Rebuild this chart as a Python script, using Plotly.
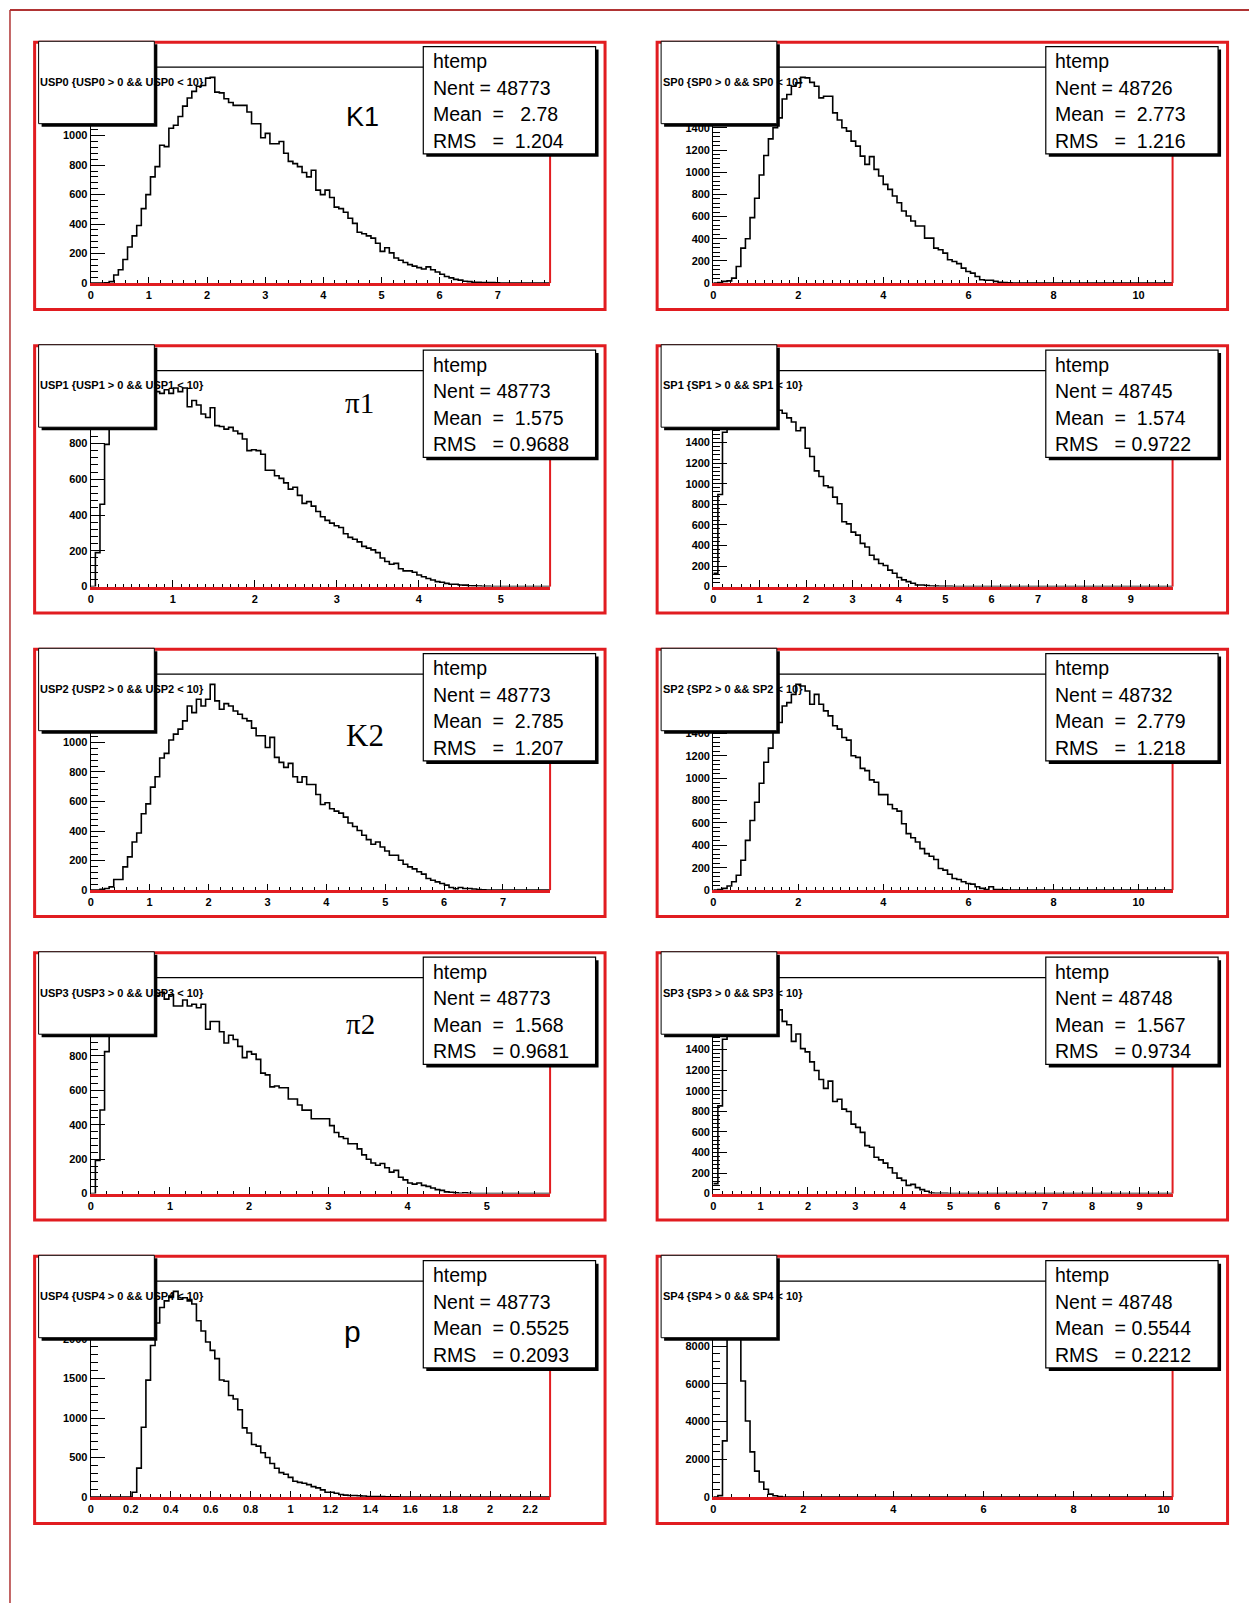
import plotly.graph_objects as go

W, H = 1249, 1609

# ---------------- data ----------------
names = ["USP0", "SP0", "USP1", "SP1", "USP2", "SP2", "USP3", "SP3", "USP4", "SP4"]
x_max = [7.9, 10.8, 5.6, 9.9, 7.8, 10.8, 5.8, 9.7, 2.3, 10.2]
n_bins = 100
nent = ["48773", "48726", "48773", "48745", "48773", "48732", "48773", "48748", "48773", "48748"]
mean = ["2.78", "2.773", "1.575", "1.574", "2.785", "2.779", "1.568", "1.567", "0.5525", "0.5544"]
rms = ["1.204", "1.216", "0.9688", "0.9722", "1.207", "1.218", "0.9681", "0.9734", "0.2093", "0.2212"]
panel_labels = ["K1", "", "π1", "", "K2", "", "π2", "", "p", ""]
x_dtick = [1, 2, 1, 1, 1, 2, 1, 1, 0.2, 2]
x_minor = [0.2, 0.2, 0.1, 0.2, 0.2, 0.2, 0.2, 0.2, 0.05, 0.4]
y_dtick = [200, 200, 200, 200, 200, 200, 200, 200, 500, 2000]
y_minor = [40, 40, 40, 40, 40, 40, 40, 40, 100, 400]

usp0 = [0, 0, 0, 2, 10, 55, 90, 160, 245, 320,
        390, 505, 600, 720, 790, 935, 925, 1050, 1070, 1130,
        1200, 1255, 1300, 1335, 1340, 1390, 1395, 1295, 1290, 1250,
        1225, 1205, 1205, 1205, 1160, 1080, 1080, 985, 1015, 945,
        945, 960, 880, 825, 810, 790, 750, 720, 765, 630,
        600, 630, 580, 515, 505, 480, 440, 405, 345, 335,
        320, 305, 270, 215, 240, 205, 170, 155, 140, 125,
        115, 105, 95, 110, 90, 75, 60, 45, 35, 25,
        20, 12, 10, 6, 5, 4, 3, 3, 2, 1]
sp0 = [0, 5, 15, 20, 45, 150, 315, 400, 590, 765,
       975, 1150, 1300, 1400, 1490, 1660, 1700, 1775, 1805, 1855,
       1850, 1810, 1775, 1670, 1685, 1685, 1535, 1470, 1400, 1370,
       1280, 1235, 1145, 1070, 1140, 1025, 965, 890, 845, 785,
       725, 650, 605, 560, 515, 515, 405, 405, 315, 300,
       270, 210, 195, 175, 135, 105, 90, 60, 30, 25,
       25, 15, 8, 5, 3]
usp1 = [0, 190, 460, 795, 960, 1060, 1100, 1120, 1140, 1150,
        1130, 1140, 1120, 1110, 1090, 1080, 1100, 1080, 1110, 1090,
        1110, 1005, 1040, 1015, 965, 945, 1000, 900, 895, 880,
        890, 870, 855, 825, 760, 765, 760, 740, 650, 650,
        620, 605, 580, 545, 555, 510, 465, 475, 450, 420,
        390, 370, 355, 340, 330, 295, 275, 265, 250, 225,
        215, 205, 190, 160, 140, 125, 130, 100, 88, 88,
        80, 65, 55, 45, 37, 28, 24, 18, 13, 13,
        9, 8, 5, 4, 3, 2, 1]
sp1 = [130, 895, 1500, 1750, 1850, 1900, 1950, 1980, 2000, 2000,
       1990, 1950, 1900, 1850, 1715, 1685, 1640, 1600, 1515, 1545,
       1345, 1265, 1125, 1070, 980, 965, 870, 805, 630, 610,
       530, 500, 420, 385, 305, 265, 225, 205, 160, 130,
       88, 65, 48, 32, 16, 15, 10, 6, 5, 4,
       3, 2]
usp2 = [0, 0, 5, 11, 22, 72, 72, 157, 225, 326,
        387, 517, 584, 697, 768, 894, 926, 1016, 1056, 1090,
        1146, 1247, 1202, 1292, 1247, 1292, 1393, 1281, 1225, 1263,
        1247, 1213, 1191, 1162, 1146, 1097, 1045, 1045, 966, 1034,
        899, 865, 831, 858, 768, 730, 768, 715, 715, 647,
        580, 591, 551, 535, 521, 494, 454, 431, 404, 371,
        342, 310, 326, 292, 265, 236, 236, 202, 175, 157,
        144, 124, 108, 79, 67, 56, 45, 34, 18, 9,
        18, 11, 11, 7, 4, 2]
sp2 = [0, 6, 15, 36, 74, 133, 267, 444, 622, 785,
       954, 1141, 1268, 1467, 1496, 1644, 1674, 1748, 1837, 1822,
       1778, 1659, 1748, 1659, 1600, 1556, 1467, 1437, 1363, 1339,
       1200, 1185, 1087, 1067, 984, 963, 853, 853, 764, 726,
       705, 593, 504, 468, 430, 370, 326, 302, 273, 193,
       178, 142, 104, 95, 74, 59, 53, 30, 15, 6,
       30, 6, 6, 3]
usp3 = [0, 193, 486, 825, 1000, 1080, 1130, 1160, 1180, 1195,
        1190, 1170, 1160, 1150, 1150, 1170, 1130, 1155, 1090, 1090,
        1125, 1090, 1100, 1080, 1100, 955, 1000, 1000, 940, 875,
        920, 895, 855, 790, 825, 810, 780, 700, 690, 620,
        625, 615, 615, 550, 550, 515, 485, 485, 435, 435,
        435, 435, 395, 355, 330, 320, 290, 290, 260, 225,
        200, 178, 165, 175, 150, 125, 135, 95, 80, 62,
        55, 62, 48, 42, 33, 23, 19, 10, 8, 4,
        2, 4, 2]
sp3 = [97, 853, 1500, 1750, 1880, 1950, 1990, 2000, 1990, 1970,
       1950, 1900, 1870, 1830, 1786, 1674, 1641, 1480, 1551, 1410,
       1378, 1281, 1197, 1110, 1023, 1094, 895, 917, 821, 798,
       676, 644, 595, 467, 451, 354, 328, 296, 251, 200,
       151, 129, 80, 90, 58, 39, 23, 6, 3, 3,
       2]
usp4 = [0, 0, 0, 0, 0, 0, 0, 0, 0, 62,
        367, 883, 1479, 1917, 2200, 2396, 2480, 2540, 2600, 2500,
        2520, 2480, 2440, 2230, 2100, 1960, 1855, 1750, 1480, 1465,
        1285, 1240, 1105, 875, 810, 665, 645, 560, 500, 425,
        365, 310, 290, 250, 200, 187, 175, 158, 133, 117,
        92, 62, 62, 50, 33, 25, 21, 21, 17, 15,
        8, 8, 8, 8, 4, 4, 3, 2, 1, 1]
sp4 = [0, 80, 2980, 8800, 10900, 10400, 6150, 4030, 2400, 1380,
       800, 420, 160, 70, 30, 10, 5, 2]

counts_all = [usp0, sp0, usp1, sp1, usp2, sp2, usp3, sp3, usp4, sp4]

# ---------------- styling / layout ----------------
SANS = "Liberation Sans, Arial, sans-serif"
SERIF = "Liberation Serif, Times New Roman, serif"
label_fonts = {"K1": (SANS, 27), "π1": (SERIF, 29), "K2": (SERIF, 31), "π2": (SERIF, 29), "p": (SANS, 30)}
label_pos = {"K1": (328.5, 75), "π1": (326, 58), "K2": (331, 87), "π2": (327, 72), "p": (319, 76)}
RED = "rgb(225,28,32)"


def X(px):
    return px / W


def Y(py):
    return 1 - py / H


fig = go.Figure()
shapes = []
annotations = []

for i, name in enumerate(names):
    col, row = i % 2, i // 2
    ox = 31.7 + col * 624.0
    oy = 37.5 + row * 305.6
    L, R, T, B = ox + 56.3, ox + 516.7, oy + 25, oy + 242.5
    n = i + 1
    xa = "x" if n == 1 else f"x{n}"
    ya = "y" if n == 1 else f"y{n}"

    c = list(counts_all[i]) + [0] * (n_bins - len(counts_all[i]))
    w = x_max[i] / n_bins
    edges = [k * w for k in range(n_bins + 1)]
    fig.add_trace(go.Scatter(x=edges, y=c + [c[-1]], mode="lines", line_shape="hv",
                             line=dict(color="black", width=1.6), xaxis=xa, yaxis=ya,
                             hoverinfo="skip"))
    ymax = 1.05 * max(c)

    tickfont = dict(family=SANS, size=11, color="black", weight="bold")
    fig.layout[f"xaxis{'' if n == 1 else n}"] = dict(
        domain=[X(L), X(R)], anchor=ya, range=[0, x_max[i]], tick0=0, dtick=x_dtick[i],
        ticks="inside", ticklen=6.5, tickwidth=1, tickcolor="black",
        minor=dict(dtick=x_minor[i], tick0=0, ticks="inside", ticklen=3.3, tickwidth=1,
                   tickcolor="black", showgrid=False),
        showline=True, linecolor=RED, linewidth=2.5, showgrid=False, zeroline=False,
        tickfont=tickfont, fixedrange=True)
    fig.layout[f"yaxis{'' if n == 1 else n}"] = dict(
        domain=[Y(B), Y(T)], anchor=xa, range=[0, ymax], tick0=0, dtick=y_dtick[i],
        tickformat="d",
        ticks="inside", ticklen=14, tickwidth=1, tickcolor="black",
        minor=dict(dtick=y_minor[i], tick0=0, ticks="inside", ticklen=7, tickwidth=1,
                   tickcolor="black", showgrid=False),
        showline=True, linecolor="black", linewidth=1.2, showgrid=False, zeroline=False,
        tickfont=tickfont, fixedrange=True)

    # pad frame
    shapes.append(dict(type="rect", xref="paper", yref="paper", x0=X(ox), x1=X(ox + 571.8),
                       y0=Y(oy), y1=Y(oy + 269), line=dict(color=RED, width=3), layer="above"))
    # frame top (black) and right (red)
    shapes.append(dict(type="line", xref="paper", yref="paper", x0=X(L), x1=X(R), y0=Y(T), y1=Y(T),
                       line=dict(color="black", width=1.2), layer="above"))
    shapes.append(dict(type="line", xref="paper", yref="paper", x0=X(R), x1=X(R), y0=Y(T), y1=Y(B),
                       line=dict(color=RED, width=2), layer="above"))
    # title box with shadow
    tx0, tx1, ty0, ty1 = ox + 4.0, ox + 120.0, oy - 1, oy + 82
    shapes.append(dict(type="rect", xref="paper", yref="paper", x0=X(tx0 + 3), x1=X(tx1 + 3),
                       y0=Y(ty0 + 3), y1=Y(ty1 + 3), fillcolor="black", line=dict(width=0), layer="above"))
    shapes.append(dict(type="rect", xref="paper", yref="paper", x0=X(tx0), x1=X(tx1),
                       y0=Y(ty0), y1=Y(ty1), fillcolor="white", line=dict(color="black", width=1),
                       layer="above"))
    # stats box with shadow
    sx0, sx1, sy0, sy1 = ox + 389.6, ox + 562.3, oy + 4.4, oy + 112.4
    shapes.append(dict(type="rect", xref="paper", yref="paper", x0=X(sx0 + 3), x1=X(sx1 + 3),
                       y0=Y(sy0 + 3), y1=Y(sy1 + 3), fillcolor="black", line=dict(width=0), layer="above"))
    shapes.append(dict(type="rect", xref="paper", yref="paper", x0=X(sx0), x1=X(sx1),
                       y0=Y(sy0), y1=Y(sy1), fillcolor="white", line=dict(color="black", width=1.2),
                       layer="above"))

    # title text
    title = f"{name} {{{name} &gt; 0 &amp;&amp; {name} &lt; 10}}"
    annotations.append(dict(xref="paper", yref="paper", x=X(ox + 4.6), y=Y(oy + 40), text=title,
                            showarrow=False, xanchor="left", yanchor="middle", borderpad=0,
                            font=dict(family=SANS, size=11, color="black", weight="bold")))
    # stats text
    nb = "\u00a0"
    lines = ["htemp", f"Nent = {nent[i]}",
             f"Mean{nb*2}={nb}" + nb * (6 - len(mean[i])) + mean[i],
             f"RMS{nb*3}={nb}" + nb * (6 - len(rms[i])) + rms[i]]
    for j, t in enumerate(lines):
        annotations.append(dict(xref="paper", yref="paper", x=X(ox + 398.1), y=Y(oy + 19 + 26.7 * j),
                                text=t, showarrow=False, xanchor="left", yanchor="middle", borderpad=0,
                                font=dict(family=SANS, size=19.5, color="black")))
    # particle label
    lab = panel_labels[i]
    if lab:
        fam, size = label_fonts[lab]
        lx, ly = label_pos[lab]
        annotations.append(dict(xref="paper", yref="paper", x=X(ox + lx), y=Y(oy + ly), text=lab,
                                showarrow=False, xanchor="center", yanchor="middle", borderpad=0,
                                font=dict(family=fam, size=size, color="black")))

# outer canvas border (top and left visible)
shapes.append(dict(type="line", xref="paper", yref="paper", x0=X(7), x1=1, y0=Y(5), y1=Y(5),
                   line=dict(color="rgb(176,52,52)", width=2), layer="above"))
shapes.append(dict(type="line", xref="paper", yref="paper", x0=X(7), x1=X(7), y0=Y(5), y1=0,
                   line=dict(color="rgb(176,52,52)", width=1.5), layer="above"))

fig.update_layout(width=W, height=H, margin=dict(l=0, r=0, t=0, b=0),
                  paper_bgcolor="white", plot_bgcolor="white", showlegend=False,
                  shapes=shapes, annotations=annotations)

fig.write_html("out.html", config={"displayModeBar": False},
               post_script="document.body.style.margin='0';")
